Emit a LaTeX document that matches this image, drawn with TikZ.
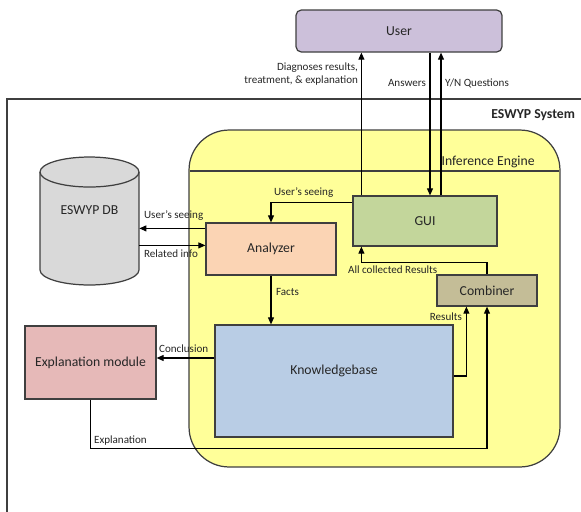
\documentclass[tikz,border=0pt]{standalone}
\usepackage{fontspec}
\setmainfont{Carlito}
\usepackage{tikz}
\usetikzlibrary{arrows.meta,positioning,calc}
\definecolor{edgec}{HTML}{3F3F3F}
\definecolor{textc}{HTML}{262626}
\definecolor{usercol}{HTML}{CCC0DA}
\definecolor{enginecol}{HTML}{FFFF99}
\definecolor{dbcol}{HTML}{D9D9D9}
\definecolor{ancol}{HTML}{FBD4B4}
\definecolor{guicol}{HTML}{C3D69B}
\definecolor{combcol}{HTML}{C4BD97}
\definecolor{kbcol}{HTML}{B9CDE5}
\definecolor{explcol}{HTML}{E6B9B8}

\begin{document}
\begin{tikzpicture}[x=0.02cm,y=-0.02cm,text=textc,
  box/.style={draw=edgec,line width=0.7pt,inner sep=1pt,
              font=\fontsize{7.8}{9}\selectfont},
  lbl/.style={inner sep=1pt,font=\fontsize{6.3}{7.6}\selectfont},
  conn/.style={draw=black,line width=0.6pt,-{Triangle[length=4pt,width=3.4pt]}},
]
\useasboundingbox (0,0) rectangle (581,511);
\clip (0,0) rectangle (581,511);

% system frame and inference engine
\draw[edgec,line width=0.6pt] (7,99) rectangle (640,560);
\node[font=\fontsize{7.8}{9}\selectfont\bfseries,inner sep=1pt,anchor=east] (syslbl) at (577,115) {ESWYP System};
\node[draw=edgec,line width=0.7pt,fill=enginecol,rounded corners=0.8cm,
      minimum width=7.42cm,minimum height=6.74cm] (engine) at (374.5,298.5) {};
\draw[edgec,line width=0.6pt] (190,171) -- (559,171);
\node[box,draw=none,anchor=east] (englbl) at (537,162) {Inference Engine};

% database
\begin{scope}[shift={(89.5,221)},x=1cm,y=1cm]
  \draw[edgec,line width=0.7pt,fill=dbcol] (-0.99,0.98) -- (-0.99,-0.98)
    arc[start angle=180,end angle=360,x radius=0.99,y radius=0.3]
    -- (0.99,0.98) arc[start angle=0,end angle=180,x radius=0.99,y radius=0.3] -- cycle;
  \draw[edgec,line width=0.7pt] (-0.99,0.98)
    arc[start angle=180,end angle=360,x radius=0.99,y radius=0.3];
\end{scope}
\node[minimum width=1.98cm,minimum height=2.56cm,inner sep=0pt] (db) at (89.5,221) {};
\node[box,draw=none] (dbtext) at (89.5,210) {ESWYP DB};

% boxes
\node[box,fill=usercol,rounded corners=3pt,minimum width=4.12cm,minimum height=0.84cm] (user) at (399,31) {User};
\node[box,fill=ancol,minimum width=2.6cm,minimum height=1.04cm] (an) at (271,249) {Analyzer};
\node[box,fill=guicol,minimum width=2.88cm,minimum height=1.0cm] (gui) at (425,221) {GUI};
\node[box,fill=combcol,minimum width=2.0cm,minimum height=0.62cm] (comb) at (487,290.5) {Combiner};
\node[box,fill=kbcol,minimum width=4.76cm,minimum height=2.24cm] (kb) at (334,381) {};
\node[box,draw=none] (kbtext) at ($(kb)+(0,-10)$) {Knowledgebase};
\node[box,fill=explcol,minimum width=2.62cm,minimum height=1.46cm] (expl) at (90.5,362.5) {Explanation module};

% connectors
\coordinate (d0) at ($(gui.north west)+(9,0)$);
\coordinate (a0) at ($(gui.north)+(5,0)$);
\coordinate (q0) at ($(gui.north)+(16,0)$);
\coordinate (s0) at ($(an.north west)+(0,6)$);
\coordinate (r0) at ($(an.north west)+(0,23)$);
\coordinate (c0) at ($(kb.west)+(0,-23)$);
\coordinate (eb) at ($(kb.south)+(0,11)$);
\draw[conn] (d0) -- (d0 |- user.south);
\draw[conn] (user.south -| a0) -- (a0);
\draw[conn] (q0) -- (q0 |- user.south);
\draw[conn] ($(gui.north west)+(0,7)$) -| (an.north);
\draw[conn] (s0) -- (s0 -| db.east);
\draw[conn] (r0 -| db.east) -- (r0);
\draw[conn] (an.south) -- (an.south |- kb.north);
\draw[conn] (comb.north) -- ++(0,-12) -| (d0 |- gui.south);
\draw[conn] ($(kb.east)+(0,-5)$) -| ($(comb.south west)+(30,0)$);
\draw[conn] (expl.south) |- (eb) -| (comb.south);
\draw[conn] (c0) -- (c0 -| expl.east);

% labels
\node[lbl,anchor=east,align=right] (diaglbl) at (360,74) {Diagnoses results,\\treatment, \& explanation};
\node[lbl,anchor=east] (anslbl) at (428,83) {Answers};
\node[lbl,anchor=west] (ynlbl) at (443,83) {Y/N Questions};
\node[lbl,anchor=west] (seelbl) at (272,193) {User’s seeing};
\node[lbl,anchor=west] (dbseelbl) at (142,216) {User’s seeing};
\node[lbl,anchor=west] (rellbl) at (142,254) {Related info};
\node[lbl,anchor=west] (factlbl) at (274,292) {Facts};
\node[lbl,anchor=west] (alllbl) at (346,270) {All collected Results};
\node[lbl,anchor=east] (reslbl) at (464,317) {Results};
\node[lbl,anchor=west] (conclbl) at (157,349) {Conclusion};
\node[lbl,anchor=west] (expllbl) at (92,441) {Explanation};
\end{tikzpicture}
\end{document}
